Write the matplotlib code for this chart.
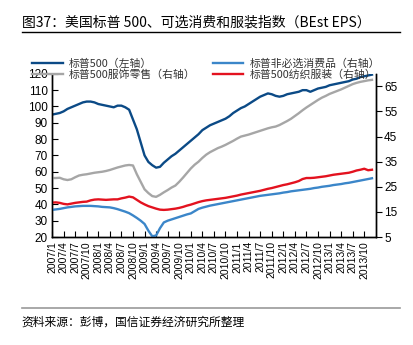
import matplotlib
matplotlib.use("Agg")
import matplotlib.pyplot as plt


# =========================================================
# Data (monthly readings, 2007/1 .. 2013/12)
# =========================================================

sp500 = [
    95, 95.5, 96, 97, 98.5, 99.5, 100.5, 101.5, 102.5, 103, 103, 102.5,
    101.5, 101, 100.5, 100, 99.5, 100.5, 100.5, 99.5, 98, 92, 86, 78,
    70, 66, 64, 62.5, 63, 65.5, 67.5, 69.5, 71, 73, 75, 77,
    79, 81, 83, 85.5, 87, 88.5, 89.5, 90.5, 91.5, 92.5, 94, 96,
    97.5, 99, 100, 101.5, 103, 104.5, 106, 107, 108, 107.5, 106.5, 106,
    106.5, 107.5, 108, 108.5, 109, 110, 110, 109, 110, 111, 111.5, 112,
    113, 113.5, 114, 114.5, 115, 115.5, 116.5, 117, 118, 118.5, 119, 119.5,
]

apparel_retail = [
    28.5, 28.5, 28.6, 28, 27.7, 28, 28.8, 29.5, 29.8, 30, 30.3, 30.6,
    30.8, 31, 31.3, 31.7, 32.2, 32.7, 33.1, 33.5, 33.7, 33.5, 30, 27,
    24, 22.5, 21.3, 21, 21.8, 22.8, 23.7, 24.7, 25.5, 27, 28.7, 30.5,
    32.3, 33.8, 35, 36.5, 37.8, 38.8, 39.6, 40.4, 41, 41.7, 42.5, 43.3,
    44.2, 45, 45.4, 45.8, 46.3, 46.8, 47.3, 47.8, 48.3, 48.7, 49, 49.6,
    50.4, 51.2, 52.1, 53.2, 54.3, 55.5, 56.6, 57.6, 58.6, 59.6, 60.5, 61.2,
    62, 62.6, 63.2, 63.8, 64.5, 65.2, 65.9, 66.4, 66.8, 67.1, 67.4, 67.6,
]

discretionary = [
    15.8, 16, 16.2, 16.5, 16.8, 17, 17.2, 17.3, 17.4, 17.4, 17.4, 17.3,
    17.2, 17, 16.9, 16.8, 16.5, 16.1, 15.6, 15.1, 14.5, 13.6, 12.6, 11.5,
    10.2, 7.5, 5.3, 5.6, 8.5, 10.8, 11.5, 12, 12.5, 13, 13.5, 14,
    14.4, 15.3, 16.2, 16.7, 17.1, 17.5, 17.8, 18.1, 18.4, 18.7, 19, 19.3,
    19.6, 19.9, 20.2, 20.5, 20.8, 21.1, 21.4, 21.6, 21.8, 22, 22.2, 22.4,
    22.7, 22.9, 23.2, 23.4, 23.6, 23.8, 24, 24.2, 24.5, 24.7, 25, 25.2,
    25.4, 25.7, 25.9, 26.1, 26.4, 26.6, 26.9, 27.2, 27.5, 27.8, 28.1, 28.4,
]

textiles = [
    18.7, 18.8, 18.6, 18.2, 18.0, 18.3, 18.6, 18.8, 19, 19.1, 19.6, 19.9,
    20, 19.9, 19.8, 19.9, 20, 20, 20.4, 20.7, 21.1, 20.8, 19.8, 18.8,
    18, 17.3, 16.8, 16.3, 15.9, 15.8, 15.9, 16.1, 16.3, 16.6, 17, 17.5,
    17.9, 18.4, 18.9, 19.3, 19.6, 19.8, 20, 20.2, 20.4, 20.6, 20.9, 21.2,
    21.5, 21.9, 22.2, 22.5, 22.8, 23.1, 23.4, 23.8, 24.2, 24.5, 24.9, 25.3,
    25.7, 26, 26.4, 26.8, 27.3, 28.1, 28.5, 28.5, 28.6, 28.8, 29, 29.2,
    29.5, 29.8, 30, 30.2, 30.4, 30.6, 31, 31.5, 31.8, 32.2, 31.6, 31.8,
]

months = list(range(len(sp500)))
tick_labels = [f"{y}/{m}" for y in range(2007, 2014) for m in (1, 4, 7, 10)]
tick_pos = [3 * i for i in range(len(tick_labels))]

left_ticks = list(range(20, 121, 10))
right_ticks = list(range(5, 66, 10))

CJK = ["Noto Sans CJK SC", "DejaVu Sans"]
NUM = ["Liberation Sans", "DejaVu Sans"]


# =========================================================
# Figure
# =========================================================

fig = plt.figure(figsize=(4.13, 3.45), dpi=100)
ax = fig.add_axes([0.126, 0.313, 0.784, 0.473])
ax2 = ax.twinx()

l1, = ax.plot(months, sp500, color="#0b4a86", linewidth=1.7,
              label="标普500（左轴）")
l3, = ax2.plot(months, apparel_retail, color="#a6a6a6", linewidth=1.7,
               label="标普500服饰零售（右轴）")
l4, = ax2.plot(months, textiles, color="#e3121f", linewidth=1.7,
               label="标普500纺织服装（右轴）")
l2, = ax2.plot(months, discretionary, color="#3b86c9", linewidth=1.7,
               label="标普非必选消费品（右轴）")

ax.set_xlim(0, 84)
ax.set_ylim(20, 120)
ax2.set_ylim(5, 70)

ax.set_yticks(left_ticks)
ax2.set_yticks(right_ticks)
ax.set_xticks(tick_pos)
ax.set_xticklabels(tick_labels, rotation=90, fontsize=7.5, family=NUM)
for lab in ax.get_yticklabels():
    lab.set_family(NUM)
    lab.set_fontsize(8.5)
for lab in ax2.get_yticklabels():
    lab.set_family(NUM)
    lab.set_fontsize(8.5)

ax.tick_params(axis="y", direction="in", length=4, pad=3)
ax.tick_params(axis="x", direction="in", length=4, pad=3)
ax2.tick_params(axis="y", direction="out", length=4, pad=2)

for a in (ax, ax2):
    a.spines["top"].set_visible(False)
    a.spines["left"].set_linewidth(1.0)
    a.spines["right"].set_linewidth(1.0)
    a.spines["bottom"].set_linewidth(1.0)

leg = fig.legend(
    handles=[l1, l3, l2, l4],
    ncol=2,
    loc="upper left",
    bbox_to_anchor=(0.078, 0.83),
    frameon=False,
    prop={"family": CJK, "size": 7.8},
    handlelength=2.8,
    handletextpad=0.6,
    columnspacing=1.6,
    labelspacing=0.02,
    borderaxespad=0,
    borderpad=0,
)
for t in leg.get_texts():
    t.set_color("#333333")

# title, rules and source
fig.text(0.053, 0.935, "图37：美国标普 500、可选消费和服装指数（BEst EPS）",
         family=CJK, fontsize=10, va="center", ha="left")
fig.add_artist(plt.Line2D([0.053, 0.968], [0.907, 0.907],
                          color="black", linewidth=1.0))
fig.add_artist(plt.Line2D([0.053, 0.968], [0.107, 0.107],
                          color="#999999", linewidth=1.2))
fig.text(0.053, 0.067, "资料来源：彭博，国信证券经济研究所整理",
         family=CJK, fontsize=8.5, va="center", ha="left")

fig.savefig("out.png", dpi=100)
